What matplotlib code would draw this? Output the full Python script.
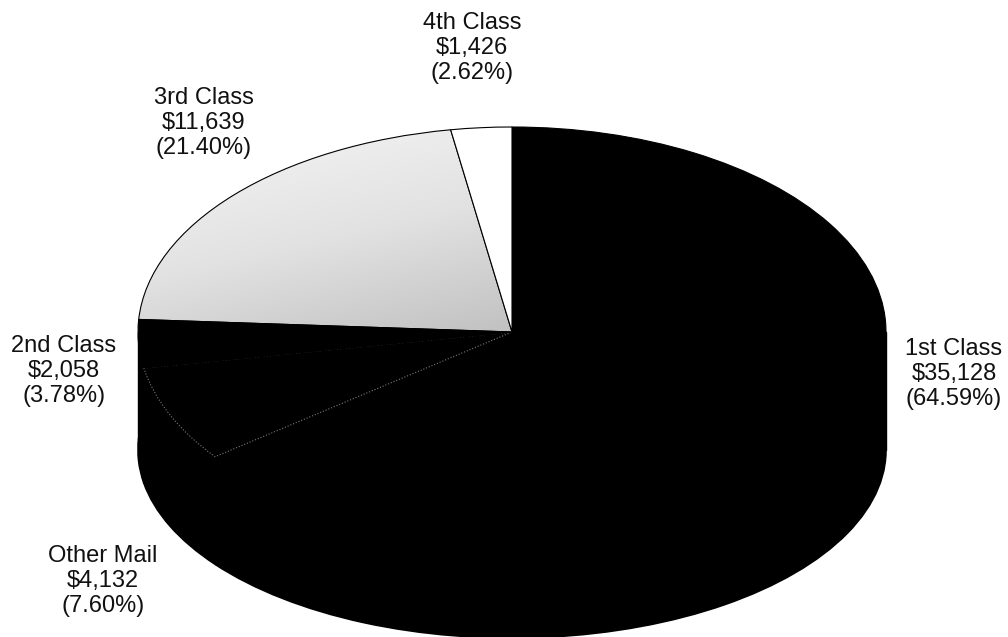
import matplotlib.pyplot as plt
import numpy as np
from matplotlib.colors import LinearSegmentedColormap
from matplotlib.patches import Rectangle


# pie data, clockwise from 12 o'clock
categories = ["1st Class", "Other Mail", "2nd Class", "3rd Class", "4th Class"]
amounts = [35128, 4132, 2058, 11639, 1426]
percents = [64.59, 7.60, 3.78, 21.40, 2.62]
slice_colors = ["#000000", "#000000", "#000000", "#dcdcdc", "#ffffff"]

# label block centres in pixels (layout only)
label_centers = [(954, 374), (103, 581), (64, 371), (204, 123), (472, 48)]

W, H = 1008, 637
CX, RX = 512, 374
TOP_CY, TOP_RY = 332, 205
BOT_CY, BOT_RY = 450, 188


def ellipse_limits(ax, cy, ry):
    """Map unit circle onto an ellipse centred at pixel (CX, cy)."""
    ax.set_aspect("auto")
    ax.set_xlim(-CX / RX, (W - CX) / RX)
    ax.set_ylim(-(H - cy) / ry, cy / ry)
    ax.axis("off")


fig = plt.figure(figsize=(W / 100, H / 100), dpi=100)

# side of the 3D pie: bottom face plus the extrusion
ax_side = fig.add_axes([0, 0, 1, 1])
ax_side.pie(amounts, startangle=90, counterclock=False,
            colors=["#000000"] * len(amounts),
            wedgeprops=dict(edgecolor="#000000", linewidth=1.2))
depth = (BOT_CY - TOP_CY) / BOT_RY
ax_side.add_patch(Rectangle((-1, 0), 2, depth, facecolor="#000000",
                            edgecolor="#000000", linewidth=1.0))
ellipse_limits(ax_side, BOT_CY, BOT_RY)

# top face
ax_top = fig.add_axes([0, 0, 1, 1])
ax_top.patch.set_alpha(0)
wedges, _ = ax_top.pie(amounts, startangle=90, counterclock=False,
                       colors=slice_colors,
                       wedgeprops=dict(edgecolor="#000000", linewidth=0.8))

# faint dotted outline of the Other Mail slice
wedges[1].set_edgecolor("#7a7a7a")
wedges[1].set_linestyle(":")
wedges[1].set_linewidth(0.8)

# stippled grey shading of 3rd Class, darker toward the bottom right
xs = np.linspace(-1, 0.2, 200)
ys = np.linspace(0, 1, 200)
X, Y = np.meshgrid(xs, ys)
shade = 0.7 * Y + 0.3 * (-X)
cmap = LinearSegmentedColormap.from_list("stip", ["#bdbdbd", "#e2e2e2", "#f6f6f6"])
im = ax_top.imshow(shade, extent=(-1, 0.2, 0, 1), origin="lower", cmap=cmap,
                   aspect="auto", zorder=0.5, interpolation="bilinear")
im.set_clip_path(wedges[3])
wedges[3].set_facecolor("none")
wedges[3].set_linewidth(0.8)

ellipse_limits(ax_top, TOP_CY, TOP_RY)

for cat, amt, pct, (px, py) in zip(categories, amounts, percents, label_centers):
    fig.text(px / W, 1 - py / H, f"{cat}\n${amt:,}\n({pct:.2f}%)",
             ha="center", va="center", ma="center", fontsize=17,
             family="Liberation Sans", color="#111111", linespacing=1.15)

fig.savefig("out.png", dpi=100)
